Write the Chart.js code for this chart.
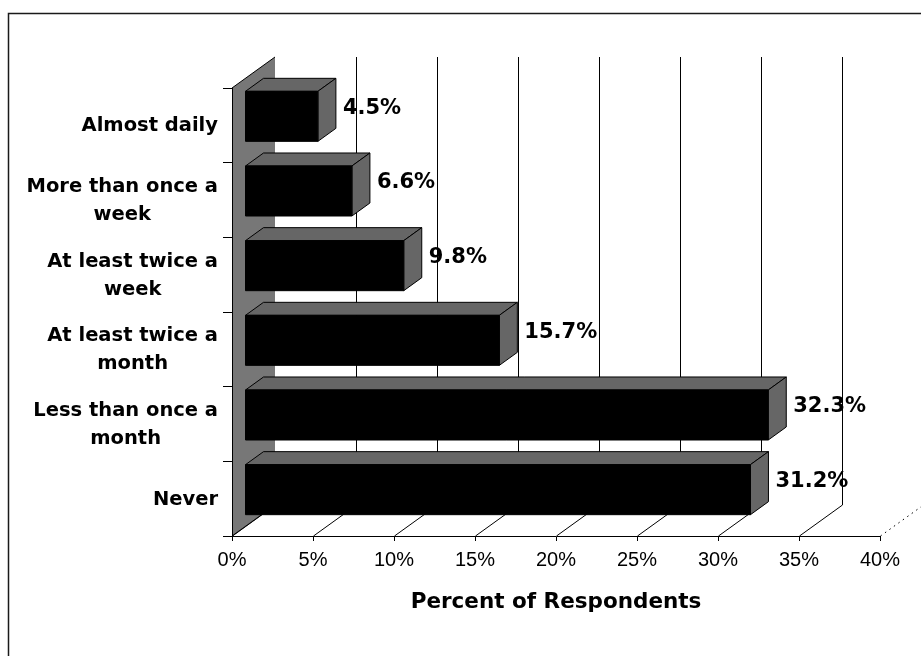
<!DOCTYPE html>
<html>
<head>
<meta charset="utf-8">
<title>Percent of Respondents</title>
<script src="https://cdn.jsdelivr.net/npm/chart.js@4/dist/chart.umd.min.js"></script>
<style>
  html, body { margin: 0; padding: 0; background: #fff; overflow: hidden; }
  canvas { display: block; }
</style>
</head>
<body>
<canvas id="chart" width="921" height="656"></canvas>
<script>
// Frequency categories (each entry is the lines of its label)
const categories = [
  ["Almost daily"],
  ["More than once a", "week"],
  ["At least twice a", "week"],
  ["At least twice a", "month"],
  ["Less than once a", "month"],
  ["Never"]
];
// Share of respondents per category, in percent
const percentages = [4.5, 6.6, 9.8, 15.7, 32.3, 31.2];
// Horizontal axis labels, one per 5% step
const xTickLabels = ["0%", "5%", "10%", "15%", "20%", "25%", "30%", "35%", "40%"];
const axisTitle = "Percent of Respondents";

// Pseudo-3D geometry (pixels)
const WALL_DX = 43, WALL_DY = -31;     // back wall offset from the front plane
const BAR_DX = 13, BAR_DY = -9;        // bar front faces sit inside the depth
const DEPTH_DX = 18, DEPTH_DY = -13;   // bar thickness in depth

const BOLD = '"DejaVu Sans", "Liberation Sans", Arial, sans-serif';
const PLAIN = '"Liberation Sans", Arial, sans-serif';

const depthPlugin = {
  id: 'depth',
  beforeDraw(chart) {
    const { ctx, chartArea: a, scales: { x } } = chart;
    ctx.save();
    ctx.fillStyle = '#fff';
    ctx.fillRect(0, 0, chart.width, chart.height);

    // outer frame
    ctx.strokeStyle = '#1a1a1a';
    ctx.lineWidth = 1.5;
    ctx.beginPath();
    ctx.moveTo(8.5, chart.height + 5);
    ctx.lineTo(8.5, 13.5);
    ctx.lineTo(chart.width + 5, 13.5);
    ctx.stroke();

    // gridlines on the back wall
    ctx.strokeStyle = '#000';
    ctx.lineWidth = 1;
    x.ticks.forEach(t => {
      if (t.value === 0) return;
      const px = Math.round(x.getPixelForValue(t.value) + WALL_DX) + 0.5;
      ctx.beginPath();
      ctx.moveTo(px, a.top + WALL_DY);
      ctx.lineTo(px, a.bottom + WALL_DY);
      ctx.stroke();
    });

    // floor lines running back from each tick
    x.ticks.forEach((t, i) => {
      const px = x.getPixelForValue(t.value) + 0.5;
      ctx.setLineDash(i === x.ticks.length - 1 ? [1.5, 4] : []);
      ctx.beginPath();
      ctx.moveTo(px, a.bottom);
      ctx.lineTo(px + WALL_DX, a.bottom + WALL_DY);
      ctx.stroke();
    });
    ctx.setLineDash([]);

    // left side wall
    ctx.fillStyle = '#777';
    ctx.beginPath();
    ctx.moveTo(a.left, a.top);
    ctx.lineTo(a.left + WALL_DX, a.top + WALL_DY);
    ctx.lineTo(a.left + WALL_DX, a.bottom + WALL_DY);
    ctx.lineTo(a.left, a.bottom);
    ctx.closePath();
    ctx.fill();
    ctx.beginPath();
    ctx.moveTo(a.left, a.top);
    ctx.lineTo(a.left + WALL_DX, a.top + WALL_DY);
    ctx.moveTo(a.left, a.bottom);
    ctx.lineTo(a.left + WALL_DX, a.bottom + WALL_DY);
    ctx.stroke();
    ctx.restore();
  },
  beforeDatasetsDraw(chart) {
    chart.ctx.save();
    chart.ctx.translate(BAR_DX, BAR_DY);
  },
  afterDatasetsDraw(chart) {
    const { ctx, chartArea: a, scales: { y } } = chart;
    const meta = chart.getDatasetMeta(0);
    // top and end faces of each bar
    ctx.fillStyle = '#666';
    ctx.strokeStyle = '#000';
    ctx.lineWidth = 1;
    ctx.lineJoin = 'round';
    meta.data.forEach(bar => {
      const p = bar.getProps(['x', 'y', 'base', 'height'], true);
      const top = p.y - p.height / 2, bottom = p.y + p.height / 2;
      const l = p.base, r = p.x;
      ctx.beginPath();
      ctx.moveTo(l, top);
      ctx.lineTo(l + DEPTH_DX, top + DEPTH_DY);
      ctx.lineTo(r + DEPTH_DX, top + DEPTH_DY);
      ctx.lineTo(r, top);
      ctx.closePath();
      ctx.fill();
      ctx.stroke();
      ctx.beginPath();
      ctx.moveTo(r, top);
      ctx.lineTo(r + DEPTH_DX, top + DEPTH_DY);
      ctx.lineTo(r + DEPTH_DX, bottom + DEPTH_DY);
      ctx.lineTo(r, bottom);
      ctx.closePath();
      ctx.fill();
      ctx.stroke();
      ctx.strokeRect(l, top, r - l, bottom - top);
    });
    ctx.restore();

    // value labels
    ctx.save();
    ctx.fillStyle = '#000';
    ctx.font = 'bold 21px ' + BOLD;
    ctx.textAlign = 'left';
    ctx.textBaseline = 'middle';
    meta.data.forEach((bar, i) => {
      const p = bar.getProps(['x', 'y'], true);
      ctx.fillText(percentages[i].toFixed(1) + '%', p.x + BAR_DX + DEPTH_DX + 7, p.y + BAR_DY - 8);
    });

    // category labels: block right-aligned, lines centred in the block
    ctx.font = 'bold 19.5px ' + BOLD;
    ctx.textAlign = 'center';
    const lineH = 28;
    categories.forEach((lines, i) => {
      const yc = y.getPixelForValue(i);
      const w = Math.max(...lines.map(s => ctx.measureText(s).width));
      const cx = a.left - 14 - w / 2;
      lines.forEach((s, j) => {
        ctx.fillText(s, cx, yc + (j - (lines.length - 1) / 2) * lineH + 1);
      });
    });
    ctx.restore();
  }
};

new Chart(document.getElementById('chart'), {
  type: 'bar',
  data: {
    labels: categories.map(c => c.join(' ')),
    datasets: [{
      data: percentages,
      backgroundColor: '#000',
      borderWidth: 0,
      barPercentage: 0.67,
      categoryPercentage: 1
    }]
  },
  options: {
    indexAxis: 'y',
    responsive: false,
    animation: false,
    devicePixelRatio: 1,
    layout: { padding: { left: 0, top: 88, right: 41, bottom: 0 } },
    plugins: { legend: { display: false }, tooltip: { enabled: false } },
    scales: {
      x: {
        type: 'linear',
        min: 0,
        max: 40,
        ticks: {
          stepSize: 5,
          autoSkip: false,
          maxRotation: 0,
          padding: 7,
          color: '#000',
          font: { family: PLAIN, size: 20 },
          callback: (v, i) => xTickLabels[i]
        },
        grid: { drawOnChartArea: false, tickLength: 5, color: '#000' },
        border: { color: '#000', width: 1 },
        title: {
          display: true,
          text: axisTitle,
          color: '#000',
          font: { family: BOLD, weight: 'bold', size: 21.5 },
          padding: { top: 0, bottom: 41 }
        },
        afterFit(s) { s.height = 120; }
      },
      y: {
        ticks: { display: false },
        grid: { drawOnChartArea: false, tickLength: 9, color: '#000', offset: true },
        border: { color: '#000', width: 1 },
        afterFit(s) { s.width = 232; }
      }
    }
  },
  plugins: [depthPlugin]
});
</script>
</body>
</html>
